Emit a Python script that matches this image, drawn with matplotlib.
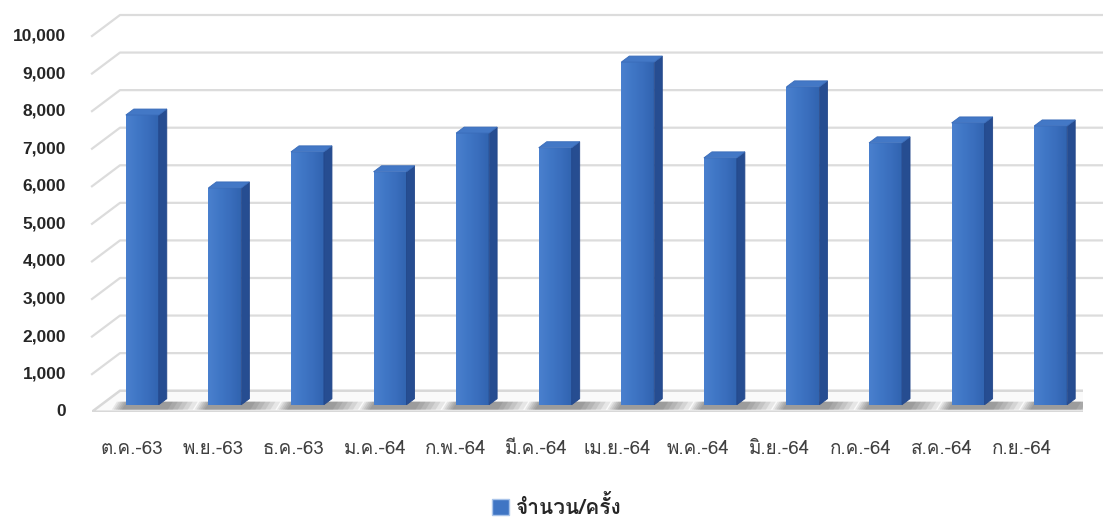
import matplotlib
matplotlib.use('Agg')
import matplotlib.pyplot as plt
from matplotlib.patches import Polygon, Patch
from matplotlib.colors import LinearSegmentedColormap
import numpy as np

months = ['ต.ค.-63', 'พ.ย.-63', 'ธ.ค.-63', 'ม.ค.-64', 'ก.พ.-64', 'มี.ค.-64',
          'เม.ย.-64', 'พ.ค.-64', 'มิ.ย.-64', 'ก.ค.-64', 'ส.ค.-64', 'ก.ย.-64']
counts = [7710, 5770, 6730, 6200, 7230, 6840, 9120, 6570, 8460, 6970, 7500, 7420]
series_name = 'จำนวน/ครั้ง'
y_ticks = list(range(0, 10001, 1000))

thai = ['Loma', 'Sarabun', 'IBM Plex Sans Thai Looped', 'DejaVu Sans']

fig = plt.figure(figsize=(11.03, 5.27), dpi=100)
ax = fig.add_axes([92 / 1103, 115.3 / 527, 991 / 1103, 375.7 / 527])
ax.axis('off')

# pixel -> data unit factors for the fake depth
px_x = 12 / 991
px_y = 10000 / 375.7
wall_dx, wall_dy = 28 * px_x, 21 * px_y
bar_dx, bar_dy = 9 * px_x, 7 * px_y
dep_dx, dep_dy = 8 * px_x, 6 * px_y
bw = 33 / 82.6

# back wall gridlines
for v in y_ticks[1:]:
    ax.plot([-0.5, -0.5 + wall_dx, 11.5 + wall_dx], [v, v + wall_dy, v + wall_dy],
            color='#dcdcdc', lw=1.6, clip_on=False, zorder=1)

# floor
floor = Polygon([(-0.5, 0), (11.5, 0), (11.5 + wall_dx, wall_dy), (-0.5 + wall_dx, wall_dy)],
                closed=True, facecolor='#fafafa', edgecolor='#d8d8d8', lw=1.8, zorder=2)
ax.add_patch(floor)

x = np.arange(len(counts))

# soft shadows on the floor
for xi in x:
    for k in range(6):
        left = xi - bw / 2 + bar_dx - (14 - 2 * k) * px_x
        right = xi + bw / 2 + bar_dx + (34 - 5 * k) * px_x
        y0, y1 = 2 * px_y, 10 * px_y
        ax.add_patch(Polygon([(left, y0), (right, y0), (right + 5 * px_x, y1), (left + 5 * px_x, y1)],
                             closed=True, facecolor='#3a3a3a', edgecolor='none', alpha=0.1, zorder=3))

front_cmap = LinearSegmentedColormap.from_list('front', ['#4a80ce', '#4077c6', '#3a6ebd', '#3164b0'])
grad = np.linspace(0, 1, 64).reshape(1, -1)

for xi, v in zip(x, counts):
    x0 = xi - bw / 2 + bar_dx
    x1 = xi + bw / 2 + bar_dx
    top = v + bar_dy
    ax.imshow(grad, extent=[x0, x1, bar_dy, top], aspect='auto', cmap=front_cmap,
              interpolation='bicubic', zorder=4)
    side = Polygon([(x1, bar_dy), (x1 + dep_dx, bar_dy + dep_dy), (x1 + dep_dx, top + dep_dy), (x1, top)],
                   closed=True, facecolor='#264d91', edgecolor='#23478a', lw=0.6, zorder=5)
    ax.add_patch(side)
    lid = Polygon([(x0, top), (x1, top), (x1 + dep_dx, top + dep_dy), (x0 + dep_dx, top + dep_dy)],
                  closed=True, facecolor='#4378c6', edgecolor='#3a6cb9', lw=0.6, zorder=5)
    ax.add_patch(lid)

ax.set_xlim(-0.5, 11.5)
ax.set_ylim(0, 10000)

# y labels
for v in y_ticks:
    ax.text(-0.5 - 26 * px_x, v, f'{v:,}', ha='right', va='center', fontsize=12.5,
            fontweight='bold', color='#262626', family=['Liberation Sans', 'DejaVu Sans'])

# x labels (Excel squeezes them slightly toward the left)
for xi, m in zip(x, months):
    ax.text(-0.016 + xi * 0.98, -37 * px_y, m, ha='center', va='center', fontsize=13.5,
            color='#404040', family=thai)

# legend
handle = Patch(facecolor='#3f75c4', edgecolor='#a9c4ea', lw=1)
leg = fig.legend([handle], [series_name], loc='center', bbox_to_anchor=(557 / 1103, 1 - 507 / 527),
                 frameon=False, handlelength=0.8, handleheight=0.8, handletextpad=0.35,
                 prop={'family': thai, 'weight': 'bold', 'size': 15})
leg.get_texts()[0].set_color('#262626')

fig.savefig('out.png', dpi=100)
